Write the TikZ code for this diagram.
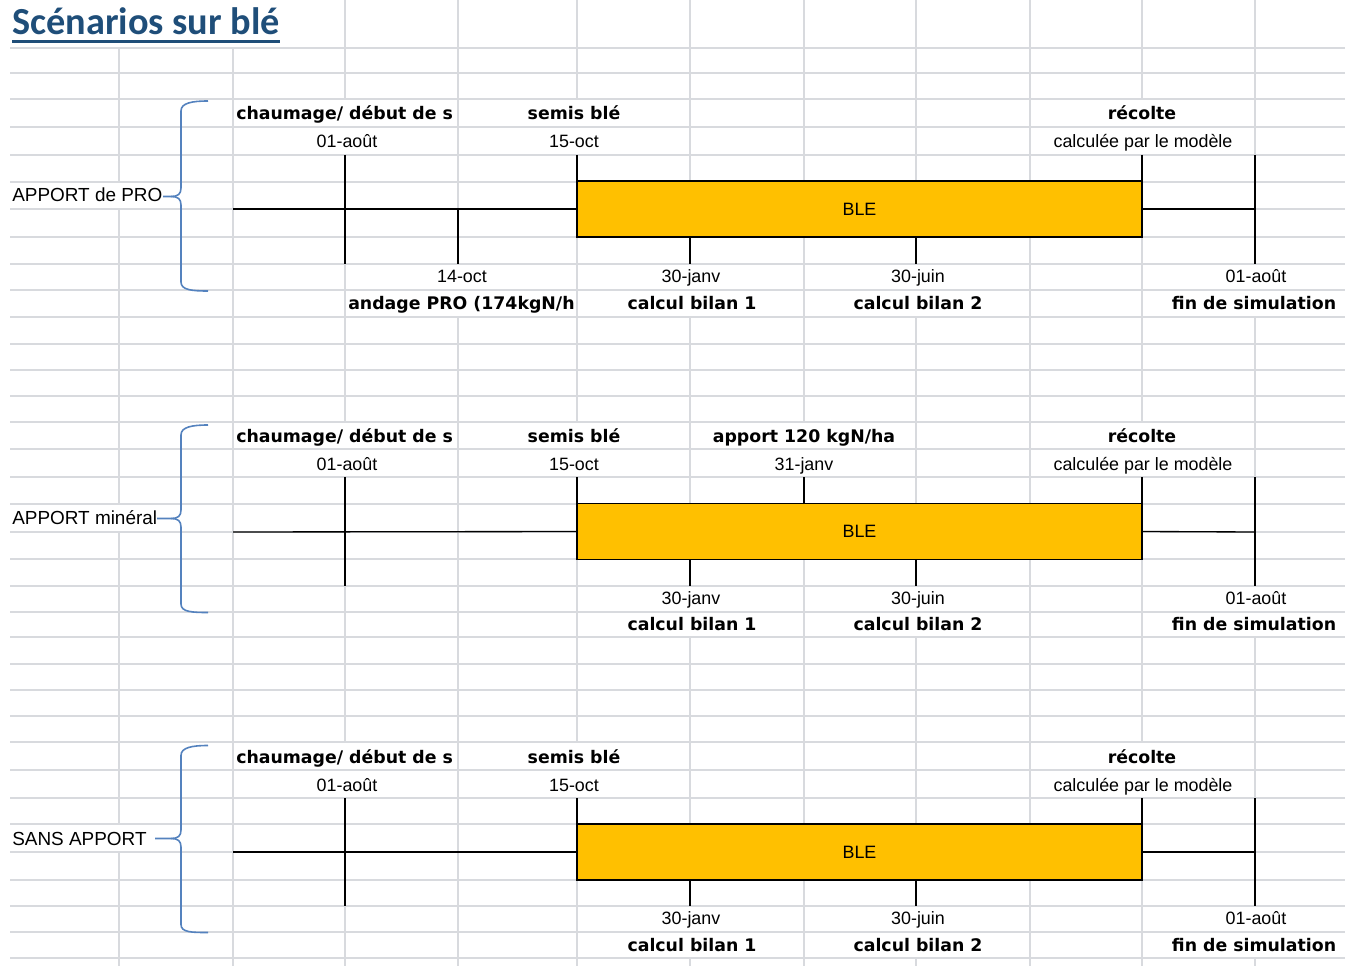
\documentclass[tikz,border=0pt]{standalone}
\usepackage{fontspec}
\setmainfont{Liberation Sans}
\newfontfamily\labfont{DejaVu Sans}
\newfontfamily\titlefont{Carlito}
\usetikzlibrary{positioning}

\definecolor{bleorange}{RGB}{255,192,0}
\definecolor{gridgray}{RGB}{216,218,222}
\definecolor{bracebl}{RGB}{84,130,190}
\definecolor{titleblue}{RGB}{31,78,121}

\tikzset{
  gridline/.style={gridgray,line width=1.3pt},
  date/.style={font=\fontsize{13.4}{16}\selectfont,inner sep=0pt,anchor=base},
  event/.style={font=\labfont\bfseries\fontsize{13}{16}\selectfont,inner sep=0pt,anchor=base},
  scen/.style={font=\fontsize{14.2}{17}\selectfont,inner sep=0pt,anchor=base west},
  blebox/.style={draw=black,fill=bleorange,line width=1pt,minimum width=423.75pt,minimum height=42pt,inner sep=0pt,outer sep=0pt,font=\fontsize{13.4}{16}\selectfont},
  axe/.style={black,line width=1pt},
  accolade/.style={bracebl,line width=1.2pt}
}

\begin{document}
\begin{tikzpicture}[x=0.75pt,y=-0.75pt]
	\useasboundingbox (0,0) rectangle (1345,966);

	% quadrillage de la feuille
	\foreach \gx in {345,458,577,690,804,916,1030,1142,1255} \draw[gridline] (\gx,0) -- (\gx,966);
	\foreach \gx in {119,233} \draw[gridline] (\gx,48) -- (\gx,966);
	\foreach \gx/\ga/\gb in {345/99/155,577/99/155,1142/99/155,458/264/317,690/264/317,916/264/317,1255/264/317,119/182/209,
		345/422/477,577/422/477,804/422/477,1142/422/477,690/586/637,916/586/637,1255/586/637,119/504/532,
		345/742/798,577/742/798,1142/742/798,690/906/958,916/906/958,1255/906/958,119/824/852}
		\fill[white] ({\gx-3},\ga) rectangle ({\gx+3},\gb);
	\foreach \gy in {48,73,99,127,155,182,209,237,264,290,317,344,370,396,422,449,477,504,532,559,586,612,637,664,690,716,742,770,798,824,852,880,906,932,958}
		\draw[gridline] (10,\gy) -- (1345,\gy);

	\node [font=\titlefont\bfseries\fontsize{28.7}{34}\selectfont,text=titleblue,anchor=base west,inner sep=0pt] (titre) at (12,35) {Scénarios sur blé};
	\draw [titleblue,line width=1.8pt] ([yshift=-5pt]titre.base west) -- ([yshift=-5pt]titre.base east);

	% APPORT de PRO
	\node [scen] (pro_txt) at (12,202) {APPORT de PRO};
	\draw [accolade] (208,101) .. controls (192,101) and (181,103) .. (181,111) -- (181,188) .. controls (181,194) and (178,196.5) .. (171,196.5) -- (163,196.5);
	\draw [accolade] (171,196.5) .. controls (178,196.5) and (181,199) .. (181,205) -- (181,282) .. controls (181,290) and (192,291) .. (208,291);
	\node [event,anchor=base west] (pro_chaum_txt) at (236,120) {chaumage/ début de s};
	\node [event] (pro_semis_txt) at (574,120) {semis blé};
	\node [event] (pro_recolte_txt) at (1142,120) {récolte};
	\node [date] (pro_aout_date) at (347,148) {01-août};
	\node [date] (pro_oct_date) at (574,148) {15-oct};
	\node [date] (pro_modele_txt) at (1143,148) {calculée par le modèle};
	\node [blebox] (pro_ble) at (859.5,209) {BLE};
	\draw [axe] (233,209) -- (pro_ble.west);
	\draw [axe] (pro_ble.east) -- (1255,209);
	\draw [axe] (345,155) -- (345,264);
	\draw [axe] (458,209) -- (458,264);
	\draw [axe] (577,155) -- (pro_ble.north west);
	\draw [axe] (1142,155) -- (pro_ble.north east);
	\draw [axe] (1255,155) -- (1255,264);
	\draw [axe] (690,237) -- (690,264);
	\draw [axe] (916,237) -- (916,264);
	\node [date] (pro_epand_date) at (462,282) {14-oct};
	\node [date] (pro_bilan1_date) at (691,282) {30-janv};
	\node [date] (pro_bilan2_date) at (918,282) {30-juin};
	\node [date] (pro_fin_date) at (1256,282) {01-août};
	\node [event,anchor=base west] (pro_epand_txt) at (348,310) {andage PRO (174kgN/h};
	\node [event] (pro_bilan1_txt) at (692,310) {calcul bilan 1};
	\node [event] (pro_bilan2_txt) at (918,310) {calcul bilan 2};
	\node [event] (pro_fin_txt) at (1254,310) {fin de simulation};

	% APPORT mineral
	\node [scen] (min_txt) at (12,524) {APPORT minéral};
	\draw [accolade] (208,425) .. controls (192,425) and (181,427) .. (181,435) -- (181,510) .. controls (181,516) and (178,518.5) .. (171,518.5) -- (157,518.5);
	\draw [accolade] (171,518.5) .. controls (178,518.5) and (181,521) .. (181,527) -- (181,604) .. controls (181,612) and (192,612.5) .. (208,612.5);
	\node [event,anchor=base west] (min_chaum_txt) at (236,442) {chaumage/ début de s};
	\node [event] (min_semis_txt) at (574,442) {semis blé};
	\node [event] (min_apport_txt) at (804,442) {apport 120 kgN/ha};
	\node [event] (min_recolte_txt) at (1142,442) {récolte};
	\node [date] (min_aout_date) at (347,470) {01-août};
	\node [date] (min_oct_date) at (574,470) {15-oct};
	\node [date] (min_apport_date) at (804,470) {31-janv};
	\node [date] (min_modele_txt) at (1143,470) {calculée par le modèle};
	\node [blebox] (min_ble) at (859.5,531.5) {BLE};
	\draw [axe] (233,532) -- (min_ble.west);
	\draw [axe] (min_ble.east) -- (1255,532);
	\draw [axe] (345,477) -- (345,586);
	\draw [axe] (577,477) -- (min_ble.north west);
	\draw [axe] (804,477) -- (804,504);
	\draw [axe] (1142,477) -- (min_ble.north east);
	\draw [axe] (1255,477) -- (1255,586);
	\draw [axe] (690,559) -- (690,586);
	\draw [axe] (916,559) -- (916,586);
	\node [date] (min_bilan1_date) at (691,604) {30-janv};
	\node [date] (min_bilan2_date) at (918,604) {30-juin};
	\node [date] (min_fin_date) at (1256,604) {01-août};
	\node [event] (min_bilan1_txt) at (692,630) {calcul bilan 1};
	\node [event] (min_bilan2_txt) at (918,630) {calcul bilan 2};
	\node [event] (min_fin_txt) at (1254,630) {fin de simulation};

	% SANS APPORT
	\node [scen] (sans_txt) at (12,845) {SANS APPORT};
	\draw [accolade] (208,745.5) .. controls (192,745.5) and (181,747.5) .. (181,755.5) -- (181,830) .. controls (181,836) and (178,838.5) .. (171,838.5) -- (155,838.5);
	\draw [accolade] (171,838.5) .. controls (178,838.5) and (181,841) .. (181,847) -- (181,924.5) .. controls (181,932.5) and (192,932.5) .. (208,932.5);
	\node [event,anchor=base west] (sans_chaum_txt) at (236,763) {chaumage/ début de s};
	\node [event] (sans_semis_txt) at (574,763) {semis blé};
	\node [event] (sans_recolte_txt) at (1142,763) {récolte};
	\node [date] (sans_aout_date) at (347,791) {01-août};
	\node [date] (sans_oct_date) at (574,791) {15-oct};
	\node [date] (sans_modele_txt) at (1143,791) {calculée par le modèle};
	\node [blebox] (sans_ble) at (859.5,852) {BLE};
	\draw [axe] (233,852) -- (sans_ble.west);
	\draw [axe] (sans_ble.east) -- (1255,852);
	\draw [axe] (345,798) -- (345,906);
	\draw [axe] (577,798) -- (sans_ble.north west);
	\draw [axe] (1142,798) -- (sans_ble.north east);
	\draw [axe] (1255,798) -- (1255,906);
	\draw [axe] (690,880) -- (690,906);
	\draw [axe] (916,880) -- (916,906);
	\node [date] (sans_bilan1_date) at (691,924) {30-janv};
	\node [date] (sans_bilan2_date) at (918,924) {30-juin};
	\node [date] (sans_fin_date) at (1256,924) {01-août};
	\node [event] (sans_bilan1_txt) at (692,951) {calcul bilan 1};
	\node [event] (sans_bilan2_txt) at (918,951) {calcul bilan 2};
	\node [event] (sans_fin_txt) at (1254,951) {fin de simulation};
\end{tikzpicture}
\end{document}
